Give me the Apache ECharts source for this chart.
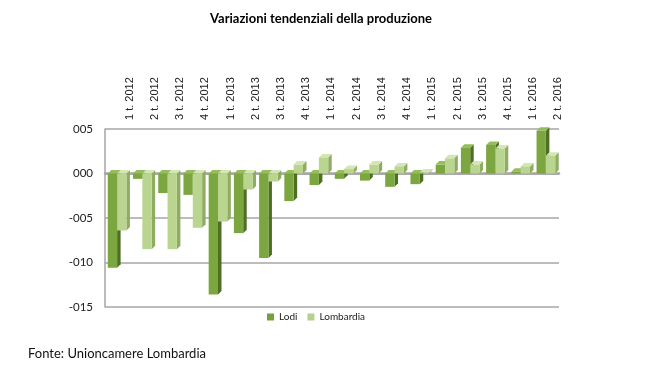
<!DOCTYPE html>
<html><head><meta charset="utf-8">
<script src="https://cdn.jsdelivr.net/npm/echarts@6/dist/echarts.min.js"></script>
<style>html,body{margin:0;padding:0;background:#fff}#c{width:648px;height:369px}</style>
</head><body><div id="c"></div>
<script>
var categories = ['1 t. 2012','2 t. 2012','3 t. 2012','4 t. 2012','1 t. 2013','2 t. 2013','3 t. 2013','4 t. 2013','1 t. 2014','2 t. 2014','3 t. 2014','4 t. 2014','1 t. 2015','2 t. 2015','3 t. 2015','4 t. 2015','1 t. 2016','2 t. 2016'];
var lodi = [-10.6,-0.6,-2.2,-2.4,-13.6,-6.7,-9.5,-3.1,-1.3,-0.6,-0.8,-1.5,-1.2,1.0,2.9,3.2,0.2,4.8];
var lombardia = [-6.4,-8.5,-8.5,-6.1,-5.4,-1.8,-0.9,1.0,1.8,0.5,1.0,0.8,0.1,1.7,1.0,2.8,0.8,2.0];
var yTicks = [-15,-10,-5,0,5];

var chart = echarts.init(document.getElementById('c'));
function fmt(v){ var a = String(Math.abs(v)); while(a.length<3) a='0'+a; return (v<0?'-':'')+a; }
function makeRender(front, side, top, offset){
  return function(params, api){
    var idx = api.value(0), val = api.value(1);
    var bw = api.size([1,0])[0];
    var p1 = api.coord([idx, val]);
    var p0 = api.coord([idx, 0]);
    var x0 = p1[0] - bw/2 + offset*bw;
    var w = 0.37*bw;
    var d = 3.5;
    var yt = Math.min(p0[1], p1[1]), yb = Math.max(p0[1], p1[1]);
    var h = Math.max(yb-yt, 0.8);
    return {type:'group', children:[
      {type:'polygon', shape:{points:[[x0+w,yt],[x0+w+d,yt-d],[x0+w+d,yt+h-d],[x0+w,yt+h]]}, style:{fill:side}},
      {type:'polygon', shape:{points:[[x0,yt],[x0+d,yt-d],[x0+w+d,yt-d],[x0+w,yt]]}, style:{fill:top}},
      {type:'rect', shape:{x:x0, y:yt, width:w, height:h}, style:{fill:front}}
    ]};
  };
}
chart.setOption({
  animation:false,
  title:{text:'Variazioni tendenziali della produzione', left:316, textAlign:'center', top:7,
    textStyle:{fontFamily:'Lato', fontSize:13, fontWeight:'bold', color:'#000'}},
  grid:[{left:105, right:89, top:129, bottom:62},{left:117, right:77, top:129, bottom:62}],
  legend:{bottom:42, left:262, itemWidth:7, itemHeight:7, itemGap:10, icon:'rect',
    textStyle:{fontFamily:'Lato', fontSize:10, color:'#222'},
    data:['Lodi','Lombardia']},
  xAxis:[
    {type:'category', data:categories, gridIndex:0, position:'bottom',
      axisLine:{show:true, lineStyle:{color:'#a6a6a6', width:2.5}}, axisTick:{show:false}, axisLabel:{show:false}},
    {type:'category', data:categories, gridIndex:1, position:'top', axisLine:{show:false}, axisTick:{show:false},
      axisLabel:{rotate:90, margin:9, fontFamily:'Liberation Sans', fontSize:11, color:'#222'}}
  ],
  yAxis:[
    {type:'value', gridIndex:0, min:-15, max:5, interval:5,
      axisLine:{show:true, lineStyle:{color:'#a6a6a6', width:1.5}}, axisTick:{show:false},
      axisLabel:{formatter:fmt, fontFamily:'Lato', fontSize:11.5, color:'#222', margin:12},
      splitLine:{lineStyle:{color:'#a6a6a6', width:1.5}}},
    {type:'value', gridIndex:1, min:-15, max:5, show:false}
  ],
  series:[
    {name:'Lodi', type:'custom', xAxisIndex:0, yAxisIndex:0, itemStyle:{color:'#77a03c'},
      data:lodi.map(function(v,i){return [i,v];}), renderItem:makeRender('#7ca640','#4e6e22','#96bd5c',0.11)},
    {name:'Lombardia', type:'custom', xAxisIndex:0, yAxisIndex:0, itemStyle:{color:'#b5d18c'},
      data:lombardia.map(function(v,i){return [i,v];}), renderItem:makeRender('#bad590','#8eac62','#d3e6b6',0.48)}
  ],
  graphic:[{type:'text', left:28, top:347, style:{text:'Fonte: Unioncamere Lombardia', font:'13px Lato', fill:'#111'}}]
});
</script></body></html>
